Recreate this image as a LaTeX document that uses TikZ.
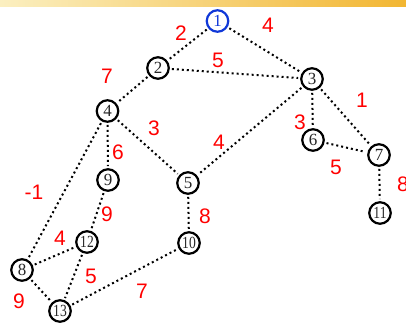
\documentclass[tikz,border=0pt]{standalone}
\usepackage{fontspec}
\setmainfont{Liberation Serif}
\setsansfont{Liberation Sans}

\begin{document}
\begin{tikzpicture}[x=1pt, y=-1pt]
    \definecolor{vertexBlue}{HTML}{1038D8}
    \definecolor{weightRed}{HTML}{FF0000}
    \definecolor{bandLight}{HTML}{FBEFC0}
    \definecolor{bandDark}{HTML}{F2B632}

    \tikzset{
        vertex/.style={circle, draw=black, line width=2.2pt, minimum size=21.5pt,
            inner sep=0pt, text=black!85, font=\fontsize{17}{17}\selectfont},
        root/.style={vertex, draw=vertexBlue, text=vertexBlue},
        weight/.style={text=weightRed, font=\sffamily\fontsize{21}{21}\selectfont, inner sep=0pt},
        edge/.style={line width=2pt, dash pattern=on 2pt off 3pt, shorten <=2pt, shorten >=2pt}
    }

    \useasboundingbox (0,0) rectangle (406,325);

    % Band along the top
    \shade[left color=bandLight, right color=bandDark] (0,0) rectangle (406,6);

    % Vertices
    \node[root]   (v1)  at (217.5,21) {1};
    \node[vertex] (v2)  at (158,68)  {2};
    \node[vertex] (v3)  at (312,79)  {3};
    \node[vertex] (v4)  at (107.5,111) {4};
    \node[vertex] (v5)  at (188,183) {5};
    \node[vertex] (v6)  at (313,140) {6};
    \node[vertex] (v7)  at (379,155) {7};
    \node[vertex] (v8)  at (22,270)  {8};
    \node[vertex] (v9)  at (108,180) {9};
    \node[vertex] (v10) at (189,243) {\scalebox{0.8}[1]{10}};
    \node[vertex] (v11) at (380,213) {\scalebox{0.8}[1]{11}};
    \node[vertex] (v12) at (87,242)  {\scalebox{0.8}[1]{12}};
    \node[vertex] (v13) at (60,311)  {\scalebox{0.8}[1]{13}};

    % Edges
    \draw[edge] (v1) -- (v2);
    \draw[edge] (v1) -- (v3);
    \draw[edge] (v2) -- (v3);
    \draw[edge] (v2) -- (v4);
    \draw[edge] (v3) -- (v5);
    \draw[edge] (v3) -- (v6);
    \draw[edge] (v3) -- (v7);
    \draw[edge] (v6) -- (v7);
    \draw[edge] (v7) -- (v11);
    \draw[edge] (v4) -- (v9);
    \draw[edge] (v4) -- (v5);
    \draw[edge] (v4) -- (v8);
    \draw[edge] (v9) -- (v12);
    \draw[edge] (v5) -- (v10);
    \draw[edge] (v8) -- (v12);
    \draw[edge] (v8) -- (v13);
    \draw[edge] (v12) -- (v13);
    \draw[edge] (v13) -- (v10);

    % Weights
    \node[weight] (w12)  at (181,33)  {2};
    \node[weight] (w13)  at (268,25)  {4};
    \node[weight] (w23)  at (218,60)  {5};
    \node[weight] (w24)  at (107,76)  {7};
    \node[weight] (w37)  at (362,100) {1};
    \node[weight] (w45)  at (154,128) {3};
    \node[weight] (w36)  at (300,122) {3};
    \node[weight] (w35)  at (219,142) {4};
    \node[weight] (w49)  at (118,152) {6};
    \node[weight] (w67)  at (336,167) {5};
    \node[weight] (w711) at (403,184) {8};
    \node[weight] (w48)  at (34,192)  {-1};
    \node[weight] (w912) at (107,214) {9};
    \node[weight] (w510) at (205,216) {8};
    \node[weight] (w812) at (60,238)  {4};
    \node[weight] (w1213) at (91,276) {5};
    \node[weight] (w813) at (19,301)  {9};
    \node[weight] (w1013) at (142,291) {7};

\end{tikzpicture}
\end{document}
